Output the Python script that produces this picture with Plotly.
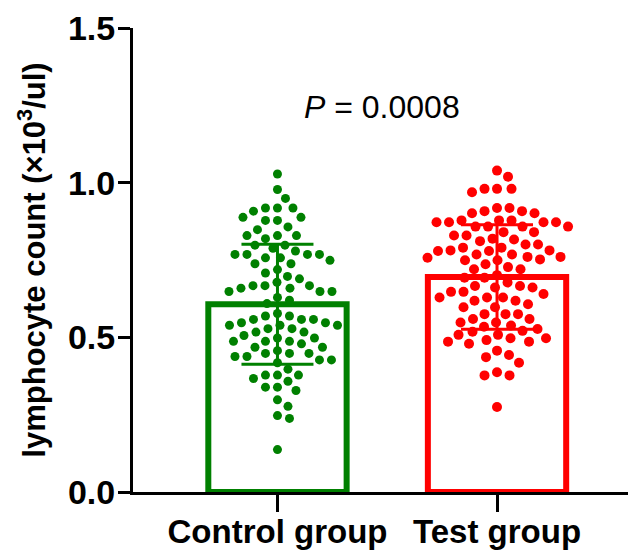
import numpy as np
import plotly.graph_objects as go

# ---------------- data ----------------
groups = ["Control group", "Test group"]

control_values = [1.028, 0.978, 0.949, 0.918, 0.918, 0.918, 0.908, 0.888, 0.888, 0.878,
                  0.878, 0.857, 0.848, 0.829, 0.829, 0.829, 0.819, 0.798, 0.798, 0.788,
                  0.779, 0.768, 0.757, 0.768, 0.749, 0.768, 0.757, 0.768, 0.738, 0.738,
                  0.719, 0.708, 0.697, 0.689, 0.678, 0.667, 0.667, 0.667, 0.659, 0.659,
                  0.648, 0.648, 0.648, 0.629, 0.620, 0.609, 0.577, 0.569, 0.569, 0.558,
                  0.558, 0.558, 0.547, 0.547, 0.539, 0.539, 0.539, 0.528, 0.528, 0.517,
                  0.517, 0.506, 0.498, 0.498, 0.487, 0.487, 0.487, 0.479, 0.468, 0.468,
                  0.457, 0.438, 0.448, 0.448, 0.448, 0.438, 0.427, 0.427, 0.418, 0.397,
                  0.378, 0.378, 0.378, 0.367, 0.358, 0.339, 0.339, 0.328, 0.298, 0.277,
                  0.247, 0.238, 0.137]

test_values = [1.039, 1.019, 0.980, 0.980, 0.969, 0.980, 0.908, 0.918, 0.918, 0.908,
               0.901, 0.901, 0.878, 0.878, 0.858, 0.872, 0.858, 0.858, 0.858, 0.872,
               0.878, 0.872, 0.872, 0.840, 0.840, 0.829, 0.819, 0.829, 0.816, 0.811,
               0.800, 0.800, 0.790, 0.790, 0.781, 0.779, 0.779, 0.781, 0.760, 0.768,
               0.768, 0.757, 0.760, 0.749, 0.752, 0.736, 0.749, 0.727, 0.720, 0.720,
               0.701, 0.693, 0.693, 0.666, 0.677, 0.661, 0.661, 0.666, 0.647, 0.647,
               0.640, 0.618, 0.618, 0.629, 0.629, 0.629, 0.607, 0.597, 0.597, 0.575,
               0.575, 0.575, 0.559, 0.559, 0.548, 0.548, 0.538, 0.534, 0.527, 0.521,
               0.518, 0.508, 0.497, 0.508, 0.486, 0.497, 0.491, 0.479, 0.486, 0.457,
               0.443, 0.436, 0.418, 0.387, 0.377, 0.377, 0.275]

group_means = [0.607, 0.695]
group_sd = [0.194, 0.169]
y_tick_values = [0.0, 0.5, 1.0, 1.5]
y_title = "lymphocyte count (×10<sup>3</sup>/ul)"
p_label = "<i>P</i> = 0.0008"

# ---------------- styles / layout ----------------
colors = ["#008000", "#FF0000"]
marker_sizes = [9, 10]
swarm_spacing = [12.0, 12.5]
# the page body has an 8px default margin, so the figure is 8px smaller
W, H = 628, 544
margin = dict(l=125, r=0, t=20, b=60)
x_range = [-0.658, 1.633]
y_range = [0, 1.5]
px_per_x = (W - margin["l"] - margin["r"]) / (x_range[1] - x_range[0])
px_per_y = (H - margin["t"] - margin["b"]) / (y_range[1] - y_range[0])
FONT = "Liberation Sans, Arial, sans-serif"


def swarm_offsets(values, diam):
    """Simple beeswarm: place each point at the nearest free horizontal offset."""
    vals = np.asarray(values, dtype=float)
    order = np.argsort(-vals, kind="stable")
    placed = []
    offs = np.zeros(len(vals))
    for i in order:
        y = vals[i] * px_per_y
        chosen = None
        k = 0
        while chosen is None:
            cands = [0.0] if k == 0 else [k * 0.5, -k * 0.5]
            for c in cands:
                if all((c - px) ** 2 + (y - py) ** 2 >= diam ** 2 for px, py in placed):
                    chosen = c
                    break
            k += 1
        placed.append((chosen, y))
        offs[i] = chosen
    return offs / px_per_x


fig = go.Figure()
all_values = [control_values, test_values]

for i, g in enumerate(groups):
    fig.add_trace(go.Bar(
        x=[i], y=[group_means[i]], width=0.63, name=g,
        marker=dict(color="rgba(0,0,0,0)", line=dict(color=colors[i], width=6)),
        error_y=dict(type="data", array=[group_sd[i]], color=colors[i],
                     thickness=3, width=36),
        showlegend=False, hoverinfo="skip",
    ))

for i, g in enumerate(groups):
    vals = all_values[i]
    offs = swarm_offsets(vals, swarm_spacing[i])
    fig.add_trace(go.Scatter(
        x=i + offs, y=vals, mode="markers", name=g,
        marker=dict(color=colors[i], size=marker_sizes[i], line=dict(width=0)),
        showlegend=False,
    ))

fig.add_annotation(
    x=0.478, y=1.245, xref="x", yref="y", text=p_label, showarrow=False,
    font=dict(family=FONT, size=32, color="black"),
)

axis_common = dict(
    showline=True, linewidth=3, linecolor="black", ticks="outside",
    tickwidth=3, tickcolor="black", showgrid=False, zeroline=False,
    automargin=False,
)

fig.update_layout(
    width=W, height=H, margin=margin, barmode="overlay",
    paper_bgcolor="white", plot_bgcolor="white",
    font=dict(family=FONT, color="black"),
    xaxis=dict(range=x_range, tickvals=[0, 1], ticktext=groups, ticklen=17,
               ticklabelstandoff=-9,
               tickfont=dict(family=FONT, size=33, weight="bold", color="black"),
               **axis_common),
    yaxis=dict(range=y_range, tickvals=y_tick_values, tickformat=".1f", ticklen=12,
               ticklabelstandoff=-4,
               tickfont=dict(family=FONT, size=34, weight="bold", color="black"),
               title=dict(text=y_title, standoff=14,
                          font=dict(family=FONT, size=31, weight="bold", color="black")),
               **axis_common),
)

fig.write_html("out.html")
